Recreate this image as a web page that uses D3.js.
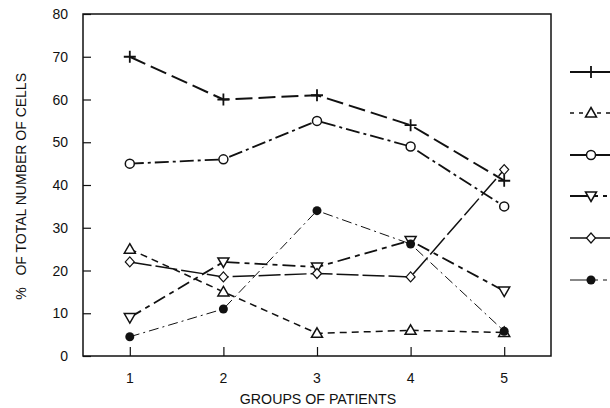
<!doctype html>
<html lang='en'>
<head>
<meta charset='utf-8'>
<title>Groups of patients</title>
<script src='https://d3js.org/d3.v7.min.js'></script>
<style>
	html, body { margin: 0; padding: 0; background: #fff; }
	svg { display: block; font-family: 'Liberation Sans', Arial, sans-serif; }
</style>
</head>
<body>
<div id='container'></div>
<script>
	// Data
	const groups = [1, 2, 3, 4, 5];
	const yTicks = [0, 10, 20, 30, 40, 50, 60, 70, 80];

	const plusVals     = [70, 60, 61, 54, 41];
	const triVals      = [25, 15, 5.3, 6, 5.5];
	const circleVals   = [45, 46, 55, 49, 35];
	const invTriVals   = [9, 22, 20.8, 27, 15.2];
	const diamondVals  = [22, 18.5, 19.3, 18.5, 43.6];
	const dotVals      = [4.5, 11, 34, 26.2, 5.8];

	const series = [
		{name: 'plus',    values: plusVals,    dash: '17,6',        width: 2,   legendY: 72},
		{name: 'tri',     values: triVals,     dash: '7,5',         width: 1.5, legendY: 113},
		{name: 'circle',  values: circleVals,  dash: '14,4,3,4',    width: 1.8, legendY: 155},
		{name: 'invtri',  values: invTriVals,  dash: '13,5,5,5',    width: 1.8, legendY: 196},
		{name: 'diamond', values: diamondVals, dash: '22,4',        width: 1.5, legendY: 238},
		{name: 'dot',     values: dotVals,     dash: '10,4,2,4',    width: 1,   legendY: 280}
	];

	const W = 610, H = 408;
	const box = {left: 83, right: 551, top: 14, bottom: 356};

	const x = d3.scaleLinear().domain([0.5, 5.5]).range([box.left, box.right]);
	const y = d3.scaleLinear().domain([0, 80]).range([box.bottom, box.top]);

	const svg = d3.select('#container').append('svg')
		.attr('width', W)
		.attr('height', H);

	// frame
	svg.append('rect')
		.attr('x', box.left).attr('y', box.top)
		.attr('width', box.right - box.left)
		.attr('height', box.bottom - box.top)
		.attr('fill', 'none')
		.attr('stroke', '#111')
		.attr('stroke-width', 1.5);

	// Y axis (ticks pointing inward)
	const yAxis = svg.append('g')
		.attr('transform', 'translate(' + box.left + ',0)')
		.call(d3.axisRight(y).tickValues(yTicks).tickSize(8).tickFormat(''));
	yAxis.select('.domain').remove();
	yAxis.selectAll('line').attr('stroke', '#111').attr('stroke-width', 1.2);

	svg.append('g').selectAll('text')
		.data(yTicks)
		.enter()
		.append('text')
		.attr('x', 68)
		.attr('y', (d) => y(d) + 5)
		.attr('text-anchor', 'end')
		.attr('font-size', 14)
		.attr('fill', '#111')
		.text((d) => d);

	// X axis (ticks pointing inward)
	const xAxis = svg.append('g')
		.attr('transform', 'translate(0,' + box.bottom + ')')
		.call(d3.axisTop(x).tickValues(groups).tickSize(9).tickFormat(''));
	xAxis.select('.domain').remove();
	xAxis.selectAll('line').attr('stroke', '#111').attr('stroke-width', 1.2);

	svg.append('g').selectAll('text')
		.data(groups)
		.enter()
		.append('text')
		.attr('x', (d) => x(d))
		.attr('y', 383)
		.attr('text-anchor', 'middle')
		.attr('font-size', 14)
		.attr('fill', '#111')
		.text((d) => d);

	// axis titles
	svg.append('text')
		.attr('x', 318)
		.attr('y', 404)
		.attr('text-anchor', 'middle')
		.attr('font-size', 14.2)
		.attr('fill', '#111')
		.text('GROUPS OF PATIENTS');

	svg.append('text')
		.attr('transform', 'translate(26,73) rotate(-90)')
		.attr('text-anchor', 'end')
		.attr('font-size', 14)
		.attr('fill', '#111')
		.attr('xml:space', 'preserve')
		.style('white-space', 'pre')
		.text('%   OF TOTAL NUMBER OF CELLS');

	// markers
	const drawMarker = (g, name, cx, cy) => {
		const s = 4.5;
		if (name === 'plus') {
			g.append('path')
				.attr('d', 'M' + (cx - 6) + ',' + cy + 'H' + (cx + 6) + 'M' + cx + ',' + (cy - 6) + 'V' + (cy + 6))
				.attr('stroke', '#111').attr('stroke-width', 1.8).attr('fill', 'none');
		} else if (name === 'tri') {
			g.append('path')
				.attr('d', 'M' + cx + ',' + (cy - 5.5) + 'L' + (cx + 5.5) + ',' + (cy + 4) + 'L' + (cx - 5.5) + ',' + (cy + 4) + 'Z')
				.attr('stroke', '#111').attr('stroke-width', 1.5).attr('fill', '#fff');
		} else if (name === 'invtri') {
			g.append('path')
				.attr('d', 'M' + cx + ',' + (cy + 5.5) + 'L' + (cx + 5.5) + ',' + (cy - 4) + 'L' + (cx - 5.5) + ',' + (cy - 4) + 'Z')
				.attr('stroke', '#111').attr('stroke-width', 1.5).attr('fill', '#fff');
		} else if (name === 'circle') {
			g.append('circle')
				.attr('cx', cx).attr('cy', cy).attr('r', s)
				.attr('stroke', '#111').attr('stroke-width', 1.5).attr('fill', '#fff');
		} else if (name === 'diamond') {
			g.append('path')
				.attr('d', 'M' + cx + ',' + (cy - 5) + 'L' + (cx + 4.5) + ',' + cy + 'L' + cx + ',' + (cy + 5) + 'L' + (cx - 4.5) + ',' + cy + 'Z')
				.attr('stroke', '#111').attr('stroke-width', 1.2).attr('fill', '#fff');
		} else if (name === 'dot') {
			g.append('circle')
				.attr('cx', cx).attr('cy', cy).attr('r', s)
				.attr('fill', '#111');
		}
	};

	const line = d3.line()
		.x((d, i) => x(groups[i]))
		.y((d) => y(d));

	const plot = svg.append('g');

	series.forEach((s) => {
		plot.append('path')
			.datum(s.values)
			.attr('d', line)
			.attr('fill', 'none')
			.attr('stroke', '#111')
			.attr('stroke-width', s.width)
			.attr('stroke-dasharray', s.dash);
	});

	series.forEach((s) => {
		const g = plot.append('g');
		s.values.forEach((v, i) => drawMarker(g, s.name, x(groups[i]), y(v)));
	});

	// legend (at right edge, partly cut off)
	const legend = svg.append('g');
	series.forEach((s) => {
		legend.append('line')
			.attr('x1', 570).attr('x2', 612)
			.attr('y1', s.legendY).attr('y2', s.legendY)
			.attr('stroke', '#111')
			.attr('stroke-width', s.width)
			.attr('stroke-dasharray', s.name === 'tri' ? '4,5' : (s.name === 'invtri' || s.name === 'dot') ? '28,5,4,5' : null);
		drawMarker(legend, s.name, 591, s.legendY);
	});
</script>
</body>
</html>
